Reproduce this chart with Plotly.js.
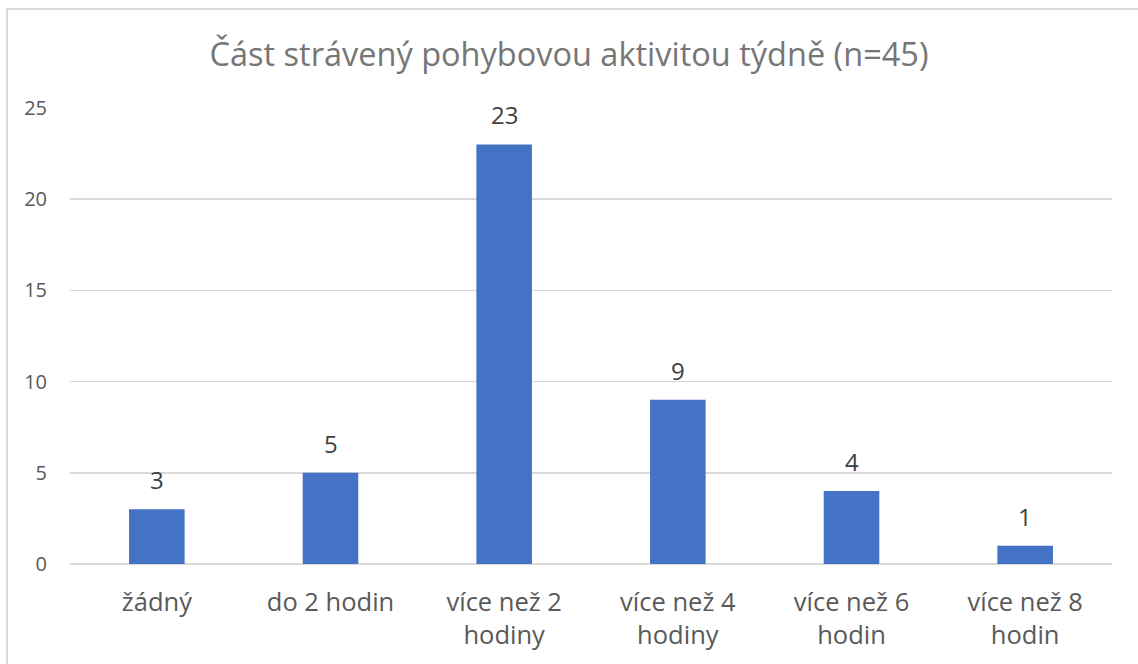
<!DOCTYPE html>
<html><head><meta charset="utf-8">
<script src="https://cdn.plot.ly/plotly-3.0.1.min.js"></script>
<style>
body{margin:0;padding:0;background:#fff;}
#wrap{position:relative;width:1138px;height:664px;overflow:hidden;}
#chart{position:absolute;left:0;top:0;width:1138px;height:664px;}
#frame{position:absolute;left:6px;top:8px;width:1200px;height:800px;border-left:2px solid #d9d9d9;border-top:2px solid #d9d9d9;pointer-events:none;}
</style></head>
<body><div id="wrap"><div id="chart"></div><div id="frame"></div></div>
<script>
const categories = ["žádný", "do 2 hodin", "více než 2<br>hodiny", "více než 4<br>hodiny", "více než 6<br>hodin", "více než 8<br>hodin"];
const values = [3, 5, 23, 9, 4, 1];
const yTicks = [0, 5, 10, 15, 20, 25];
const titleText = "Část strávený pohybovou aktivitou týdně (n=45)";

const font = "Open Sans, Liberation Sans, sans-serif";
const annotations = categories.map((c, i) => ({
  x: c, y: values[i], xref: 'x', yref: 'y', text: String(values[i]),
  showarrow: false, yanchor: 'bottom', yshift: 11,
  font: {family: font, size: 24, color: '#404040'}
}));
Plotly.newPlot('chart', [{
  type: 'bar', x: categories, y: values,
  marker: {color: '#4472c4'},
  cliponaxis: false, hoverinfo: 'none'
}], {
  width: 1138, height: 664,
  margin: {l: 70, r: 26, t: 108, b: 100},
  paper_bgcolor: '#fff', plot_bgcolor: '#fff',
  bargap: 0.68,
  annotations: annotations,
  title: {text: titleText, font: {family: font, size: 32.5, color: '#767676'}, x: 0.5, xanchor: 'center', y: 0.917, yanchor: 'middle'},
  xaxis: {tickfont: {family: font, size: 25.5, color: '#595959'}, showgrid: false, showline: false, ticks: '', ticklabelstandoff: 20, fixedrange: true},
  yaxis: {range: [0, 25], tickvals: yTicks, tickfont: {family: font, size: 20, color: '#595959'},
    gridcolor: '#d9d9d9', gridwidth: 1.5, zeroline: true, zerolinecolor: '#d9d9d9', zerolinewidth: 2, showline: false, ticks: 'outside', ticklen: 18, tickcolor: 'rgba(0,0,0,0)', fixedrange: true},
  showlegend: false
}, {displayModeBar: false, staticPlot: true});
</script></body></html>
